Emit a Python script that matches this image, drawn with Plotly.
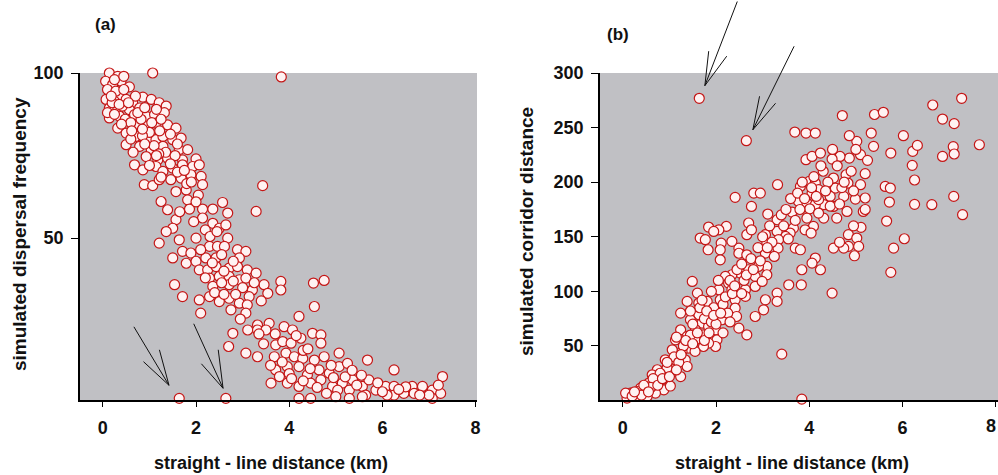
import plotly.graph_objects as go

# ---------------- data: panel (a) ----------------
xa = [0.14,0.32,0.06,0.21,0.39,0.57,0.14,0.36,0.07,0.25,0.5,0.64,0.86,1.07,0.14,0.32,0.57,0.79,1.04,1.21,
      1.36,0.14,0.36,0.68,0.93,1.11,1.32,0.32,0.5,0.71,0.93,1.14,1.39,1.57,0.71,0.96,1.14,1.29,1.5,1.68,
      0.5,0.79,1.04,1.29,1.64,1.82,0.93,1.18,1.39,1.71,2.0,0.68,0.86,1.14,1.29,1.5,1.71,1.93,2.07,1.46,
      1.68,1.89,2.11,0.89,1.07,1.21,1.57,1.79,2.14,1.82,1.25,1.39,1.86,2.14,2.36,2.57,2.68,2.14,2.36,2.5,
      2.64,1.57,1.5,1.36,1.21,1.64,2.0,2.29,2.46,2.68,2.61,1.71,1.89,1.5,1.79,2.0,2.21,2.43,2.89,3.07,
      2.93,2.07,2.25,2.43,2.71,2.89,3.1,3.29,2.29,2.5,2.71,2.93,3.07,1.54,2.36,2.71,3.21,3.46,3.82,3.82,
      3.54,1.71,2.07,2.29,2.5,2.71,2.93,3.14,3.1,2.1,2.75,3.07,4.52,4.75,4.54,4.21,3.57,3.32,3.11,2.79,
      3.32,3.5,3.89,4.07,4.5,4.68,2.7,3.07,3.32,3.71,3.86,4.04,4.25,4.68,3.68,3.93,4.11,4.29,4.54,4.75,
      5.07,3.71,3.96,4.21,4.39,4.64,4.86,5.07,5.25,5.68,3.61,3.79,3.96,4.21,4.46,4.68,4.93,5.14,5.36,5.57,
      5.71,5.04,5.29,5.64,5.86,6.07,6.25,6.25,6.25,6.64,6.86,7.07,7.29,7.25,7.07,6.68,6.46,4.21,4.46,5.29,
      5.57,1.64,2.64,3.83,3.43,3.29,
      0.25,0.45,0.1,0.28,0.45,0.2,0.42,0.7,0.1,0.25,0.48,0.6,0.82,1.0,1.22,0.6,0.85,1.1,1.35,1.55,
      1.2,1.0,1.6,1.8,2.05,1.95,2.2,2.55,2.8,3.0,2.4,2.6,2.2,3.35,3.6,4.0,4.45,4.9,4.3,5.2,
      5.45,5.9,6.1,6.5,7.0,4.8,5.0,
      0.18,0.35,0.55,0.75,0.9,1.15,0.4,0.62,0.85,1.05,1.25,1.45,1.6,0.65,0.9,1.15,1.45,1.75,1.25,1.9,
      2.0,1.65,2.3,2.45,2.1,2.35,2.6,2.8,2.55,2.85,3.25,3.4,2.95,3.7,4.15,3.85,4.05,4.3,4.6,4.95,
      5.35,5.55,6.0,6.35,6.8,7.2,3.45,4.4]
ya = [100,99,97.5,96.5,97.5,95.8,94,93.4,92,91.4,92,91,92.7,100,89.4,88.9,88.9,89.4,92,91,
      90,86.4,86.9,87.4,86.9,87.4,88,83.3,81.8,84.3,83.8,84.8,84.3,83.3,80.8,79.8,79.8,80.8,79.8,80.3,
      78.3,77.8,76.8,77.8,76.8,76.8,74.7,73.7,74.2,73.7,74,72.2,70.7,71.7,70.2,71.2,72.2,71.7,72.2,67.7,
      68.2,69.2,68.7,66.2,65.9,67.7,64.1,64.6,66.2,61.6,61.1,58.6,58.8,58.8,58.8,60.8,57.6,56.1,54.5,53,
      54,55.6,53,52,48.5,49.5,50,47.5,47.5,50,47.5,46,45.5,44,42.4,43,44,44,46.5,46,
      44,40.4,40.4,41.4,40.9,41.4,40.4,39.4,37.9,38.4,38.4,37.4,37.9,35.9,35.4,35.9,34.3,35.9,36.9,34.3,
      33.3,32.3,31.3,32.3,30.8,31.8,30.3,32.3,29.8,27.3,28.3,27.3,36.4,37.2,29.3,26.3,24.2,23.7,22.2,21.2,
      22.2,22.2,23.2,22.2,21.2,20.7,17.2,15.2,14.1,17.7,18.7,18.2,19.7,18.2,14.1,15.2,14.1,13.6,13.1,14.1,
      15.2,10.1,11.1,11.1,8.6,10.1,9.1,11.1,12.1,13.1,6.1,8.1,6.1,5.1,6.1,7.1,5.1,6.1,7.1,5.1,
      7.1,4,4,2.5,4,5.1,5.1,2.5,10.1,5.1,5.1,4,8.1,3,1.5,3,3,1.5,1.5,1.5,
      2,1.5,1.5,98.8,65.9,58.1,
      98,99,95,94.5,95,91,90,93,88,87.5,86,85,86,82,82.5,80,81,78,76,75,
      75.5,72,70,66.5,63,55,52.5,45,43,35,33.5,33,38,21,11.5,9,10.5,11.5,16,8,
      5.5,6.2,2.5,5,2.5,3,2,
      93,90.5,91,88,89.5,89,84.5,82.5,83,85,86,81.5,78.5,76,78.5,75,72.5,70.5,68.5,67,
      61,58,50.5,52,46.5,42.5,40,37,36.5,33,36.5,31,25.5,21,20.5,12.5,7.5,6.8,4.8,7.8,
      10,8.5,3.5,4.2,2.5,5.5,18,16.5]

# ---------------- data: panel (b) ----------------
xb = [1.64,2.65,4.71,5.4,5.59,6.65,7.27,6.86,7.11,7.65,7.09,6.86,7.11,7.1,7.29,6.63,6.26,6.26,6.21,6.22,
      6.32,6.02,5.75,5.63,5.74,5.72,5.66,6.04,5.81,5.75,5.33,5.38,5.02,4.86,5.1,4.86,4.66,4.49,5.2,4.79,
      5.1,4.83,4.52,4.56,4.45,4.74,4.99,5.2,4.81,4.52,4.31,4.59,4.31,5.16,5.11,4.84,5.02,5.06,4.84,4.74,
      4.97,4.52,3.93,4.13,3.69,3.93,4.06,4.24,3.81,4.0,4.13,4.2,4.06,3.77,3.95,4.13,4.2,4.01,3.63,3.95,
      4.2,4.09,3.91,4.04,3.66,3.59,3.49,3.31,3.31,3.34,3.33,3.7,3.81,4.13,4.06,4.24,3.84,3.83,3.56,4.49,
      3.32,3.11,3.06,3.09,2.81,2.95,2.76,2.41,2.7,2.66,2.76,2.49,2.49,2.66,2.34,2.22,2.06,2.11,2.09,2.09,
      1.84,1.95,1.66,1.77,1.83,3.06,3.09,2.91,2.7,2.52,3.09,2.84,2.34,2.2,2.27,2.34,2.63,2.84,2.99,3.06,
      3.02,2.84,2.63,2.41,2.41,2.44,2.49,2.66,3.31,3.31,3.41,3.84,2.06,2.09,2.06,2.13,1.99,2.02,1.99,1.84,
      1.81,1.63,1.84,1.63,1.7,1.84,1.56,1.73,1.56,1.73,1.49,1.6,1.38,1.24,1.45,1.24,1.38,1.24,1.41,1.27,
      1.06,0.91,1.13,1.34,1.38,1.06,1.24,0.91,0.74,0.84,0.7,0.56,0.49,0.88,0.7,0.38,0.31,0.52,0.27,0.09,
      0.16,0.06,1.02,0.63,1.13,
      1.5,1.65,1.75,1.9,1.95,2.15,2.2,2.3,2.45,2.55,2.6,2.75,2.9,3.0,3.15,3.2,3.4,3.5,3.6,3.75,
      3.85,4.1,4.3,4.4,4.6,4.7,4.9,5.0,1.1,1.2,1.3,0.95,0.8,0.65,0.6,0.4,0.2,1.45,1.55,1.75,
      1.85,2.0,2.25,2.35,2.05,1.9,
      0.25,0.45,0.55,0.75,0.85,1.0,0.95,1.15,1.25,1.35,1.15,1.5,1.6,1.45,1.7,1.8,1.95,2.1,2.15,2.3,
      2.4,2.55,2.65,2.8,2.95,3.1,3.25,3.45,3.55,3.7,3.8,3.9,4.05,4.15,4.35,4.45,4.65,4.75,4.95,4.25,
      4.5,5.25,4.95,4.65,5.2]
yb = [276.8,238,261,262,264,270.7,276.8,257.8,253.6,234.3,232.5,223.6,225.8,187,170.2,179.4,179.7,202,215.4,228.2,
      233.7,242.6,226.7,196.1,194.6,181.8,164.4,148.2,139.6,117.4,245,232.8,237.4,242.6,225.2,222.1,223.6,221.2,207.8,206.8,
      197.7,199.2,203.8,194.6,187,187,184.5,185.5,173.2,177.8,179.4,167.1,167.1,173.2,158.6,151.9,148.8,141.2,141.2,139.6,
      132.6,139.6,245,245,245.9,220.6,223.6,226.7,196.1,200.7,199.2,193.1,190,182.4,180.9,179.4,184,175.6,172.6,167.1,
      171.7,159.5,156.4,153.4,157.9,153.4,150.3,165.6,154.9,147.3,139.6,139.6,138.1,130.5,125.9,119.8,119.8,106,106,98.4,
      197.7,170.8,151.9,144.2,190,190,177.8,186.1,162.6,151.9,156.4,139.6,134.9,133.5,145.8,159.5,156.4,144.2,138.1,128.9,
      158.9,154.9,148.8,147.3,138.1,135,122.8,122.8,119.8,116.7,115.2,113.7,115.2,113.7,107.6,101.5,101.5,104.5,109.1,92.3,
      83.1,77,95.4,92.3,84.7,77,66.3,60.2,98.4,90.8,42.5,1.3,101.5,92.3,83.1,74,64.8,55.6,49.5,52.6,
      90.8,89.3,80.1,78.6,70.9,67.9,64.8,60.2,55.6,49.5,109.1,98.4,90.8,80.1,74,64.8,58.7,55.6,48,44.9,
      46.5,37.3,37.3,37.3,31.2,28.2,22,25.1,28.2,19,16,16,11.3,9.8,6.8,11.3,8.3,3.7,3.7,2.2,
      6.8,6.8,13.3,23.6,55.6,
      70,85,75,72,85,88,95,110,120,125,110,130,140,150,160,145,170,175,185,190,
      200,205,210,200,215,195,210,230,40,35,50,30,25,20,12,5,4,60,45,55,
      62,70,80,98,110,100,
      8,14,8,14,20,22,35,28,42,55,58,52,62,82,92,82,78,80,62,72,
      105,98,115,120,128,140,132,160,148,165,175,185,195,187,192,178,180,200,192,215,
      230,220,160,145,175]

# tick labels
xticks = [0, 2, 4, 6, 8]
yticks_a = [50, 100]
yticks_b = [50, 100, 150, 200, 250, 300]

# ---------------- styling ----------------
W, H = 998, 475
FONT = "Liberation Sans, Arial, sans-serif"
BG = "#c0c0c4"
FILL = "#fff2f2"
EDGE = "#c41616"
INK = "#111111"

def px_x(p):
    return p / W

def px_y(p):
    return 1 - p / H

def bold(v):
    return "<b>%s</b>" % v

marker = dict(size=10, color=FILL, line=dict(color=EDGE, width=1.2))

fig = go.Figure()
fig.add_trace(go.Scatter(x=xa, y=ya, mode="markers", marker=marker, cliponaxis=False,
                         xaxis="x", yaxis="y", showlegend=False, hoverinfo="skip"))
fig.add_trace(go.Scatter(x=xb, y=yb, mode="markers", marker=marker, cliponaxis=False,
                         xaxis="x2", yaxis="y2", showlegend=False, hoverinfo="skip"))

ydom = [px_y(400), px_y(73)]
tickfont = dict(family=FONT, size=18, color=INK)

common_x = dict(tickmode="array", tickvals=xticks, ticktext=[bold(t) for t in xticks],
                showline=True, linecolor="black", linewidth=1.5, ticks="outside", ticklen=5,
                tickcolor="black", tickwidth=1, showgrid=False, zeroline=False, tickfont=tickfont,
                automargin=False, ticklabelstandoff=6)
common_y = dict(showline=True, linecolor="black", linewidth=1.5, ticks="outside", ticklen=7,
                tickcolor="black", tickwidth=1, showgrid=False, zeroline=False, tickfont=tickfont,
                automargin=False, ticklabelstandoff=4)

fig.update_layout(
    width=W, height=H,
    margin=dict(l=0, r=0, t=0, b=0),
    paper_bgcolor="white", plot_bgcolor=BG,
    font=dict(family=FONT, color=INK),
    xaxis=dict(domain=[px_x(80), px_x(477)], range=[-0.49, 8.03], anchor="y", **common_x),
    yaxis=dict(domain=ydom, range=[1, 100], anchor="x", tickmode="array", tickvals=yticks_a,
               ticktext=[bold(t) for t in yticks_a], **common_y),
    xaxis2=dict(domain=[px_x(600), 1.0], range=[-0.49, 8.05], anchor="y2", **common_x),
    yaxis2=dict(domain=ydom, range=[0.5, 300], anchor="x2", tickmode="array", tickvals=yticks_b,
                ticktext=[bold(t) for t in yticks_b], **common_y),
)

xtitle_font = dict(family=FONT, size=18, color=INK)
ytitle_font = dict(family=FONT, size=19, color=INK)
ctr = dict(xref="paper", yref="paper", showarrow=False, xanchor="center", yanchor="middle")
ann = []
# panel labels
ann.append(dict(text=bold("(a)"), x=px_x(105), y=px_y(25), font=dict(family=FONT, size=17, color=INK), **ctr))
ann.append(dict(text=bold("(b)"), x=px_x(618), y=px_y(34), font=dict(family=FONT, size=17, color=INK), **ctr))
# axis titles
ann.append(dict(text=bold("straight - line distance (km)"), x=px_x(271), y=px_y(463), font=xtitle_font, **ctr))
ann.append(dict(text=bold("straight - line distance (km)"), x=px_x(792), y=px_y(463), font=xtitle_font, **ctr))
ann.append(dict(text=bold("simulated dispersal frequency"), x=px_x(19), y=px_y(234), textangle=-90,
                font=ytitle_font, **ctr))
ann.append(dict(text=bold("simulated corridor distance"), x=px_x(527), y=px_y(232), textangle=-90,
                font=ytitle_font, **ctr))
# last x tick label of panel (b), which sits on the page edge
ann.append(dict(text=bold(xticks[-1]), x=1.0, xref="paper", y=px_y(426), yref="paper",
                showarrow=False, xanchor="right", yanchor="middle", font=tickfont))

# arrows: (axis pair, tip x, tip y, [tail offset, barb1 offset, barb2 offset]) in pixels
arrows = [
    ("x", "y", 1.42, 5.45, [(-36, -60), (-10, -37), (-27, -25)]),
    ("x", "y", 2.58, 4.55, [(-30, -66), (-5, -40), (-23, -26)]),
    ("x2", "y2", 1.76, 288.4, [(33, -90), (4, -36), (23, -31)]),
    ("x2", "y2", 2.79, 248.0, [(42, -85), (7, -35), (24, -28)]),
]
for xr, yr, tx, ty, offs in arrows:
    for axo, ayo in offs:
        ann.append(dict(text="", x=tx, y=ty, xref=xr, yref=yr, ax=axo, ay=ayo, showarrow=True,
                        arrowhead=0, arrowwidth=1, arrowcolor=INK, standoff=0, startstandoff=0))

fig.update_layout(annotations=ann)
fig.write_html("out.html")
